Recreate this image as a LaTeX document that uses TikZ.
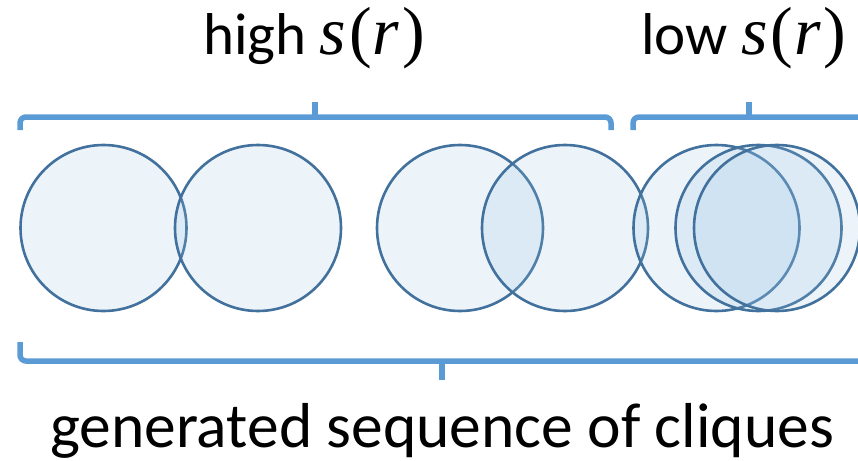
\documentclass[tikz,border=0pt]{standalone}
\usepackage{fontspec}
\setmainfont{Carlito}
\newfontfamily\mathlike{Liberation Serif}
\definecolor{cstroke}{RGB}{65,113,156}
\definecolor{cfill}{RGB}{150,192,228}
\definecolor{cbrace}{RGB}{91,155,213}
\tikzset{
  clique/.style={draw=cstroke, line width=2.6pt, fill=cfill, fill opacity=0.18, draw opacity=1},
  brace/.style={draw=cbrace, line width=5.5pt, rounded corners=6pt},
  bracetick/.style={draw=cbrace, line width=5.5pt},
  label/.style={font=\fontsize{59}{61}\selectfont, anchor=base, inner sep=0pt},
  biglabel/.style={font=\fontsize{63.5}{65}\selectfont, anchor=base, inner sep=0pt}
}
\newcommand{\sr}{{\fontsize{68}{70}\selectfont\mathlike\itshape s\kern3pt}{\fontsize{68}{70}\selectfont\mathlike(\kern1pt}{\fontsize{68}{70}\selectfont\mathlike\itshape r\kern3pt}{\fontsize{68}{70}\selectfont\mathlike)}}
\begin{document}
\begin{tikzpicture}[x=1pt,y=-1pt]
\useasboundingbox (0,0) rectangle (858,460);
\begin{scope}
\clip (0,0) rectangle (858,460);
% labels
\node[label] (high) at (314,55) {high \sr};
\node[label] (low) at (744,55) {low \sr};
\node[biglabel] (seq) at (442,447) {generated sequence of cliques};
% circles
\foreach \n/\cx in {c1/103.5, c2/258, c3/460, c4/565, c5/716.5, c6/758.5, c7/777}{
  \path[clique] (\cx,228) circle[radius=83];
  \coordinate (\n) at (\cx,228);
}
% top brackets
\coordinate (t1l) at (20,130);
\coordinate (t1r) at (611,130);
\coordinate (t1m) at (315,117);
\coordinate (t1tip) at (315,102);
\draw[brace] (t1l) -- (20,117) -- (611,117) -- (t1r);
\draw[bracetick] (t1m) -- (t1tip);
\coordinate (t2l) at (633,130);
\coordinate (t2r) at (875,117);
\coordinate (t2m) at (749,117);
\coordinate (t2tip) at (749,102);
\draw[brace] (t2l) -- (633,117) -- (t2r);
\draw[bracetick] (t2m) -- (t2tip);
% bottom bracket
\coordinate (bl) at (20,342);
\coordinate (br) at (875,361);
\coordinate (bm) at (442,361);
\coordinate (btip) at (442,380);
\draw[brace] (bl) -- (20,361) -- (br);
\draw[bracetick] (bm) -- (btip);
\end{scope}
\end{tikzpicture}
\end{document}
